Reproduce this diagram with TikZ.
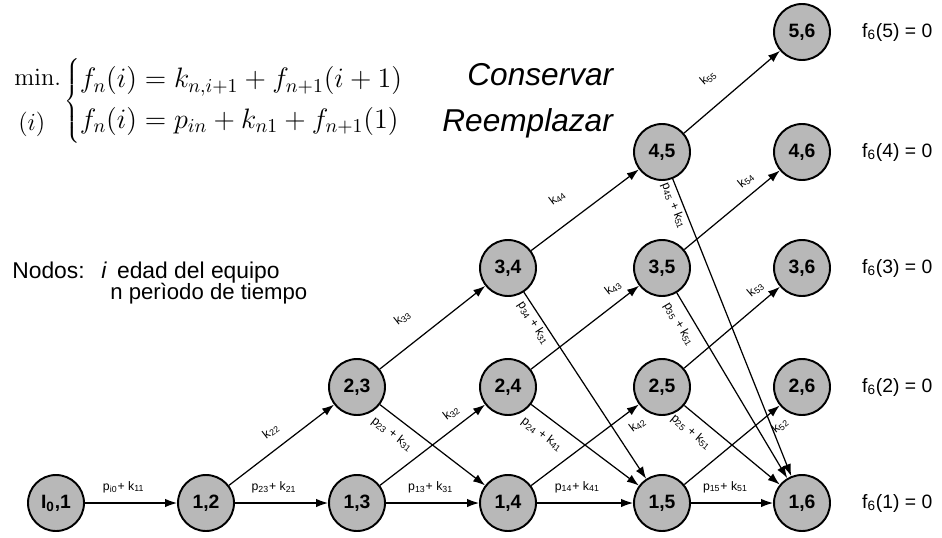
\RequirePackage{fix-cm}
\documentclass[tikz,border=0pt]{standalone}
\usepackage[no-math]{fontspec}
\setmainfont{Liberation Sans}
\usepackage{tikz}
\usetikzlibrary{arrows.meta}
\tikzset{every node/.append style={font=\fontsize{11}{13}\selectfont}}
\tikzset{
  estado/.style={circle, draw, line width=1.1pt, fill=black!28, minimum size=1.12cm,
    inner sep=0pt, font=\bfseries\fontsize{11}{13}\selectfont},
  arco/.style={->, line width=0.7pt},
  etq/.style={sloped, inner sep=0.5pt, font=\fontsize{7}{8}\selectfont},
}

\begin{document}
\begin{tikzpicture}[x=0.02cm, y=-0.02cm, >={Latex[length=2.4mm,width=1.7mm]}]
    \useasboundingbox (0,0) rectangle (942,537);
    % formula
    \node[anchor=base west, inner sep=0pt] (minimo) at (14,86) {\fontsize{14}{16}\selectfont$\mathrm{min.}$};
    \node[anchor=base west, inner sep=0pt] (indice) at (18,130) {\fontsize{14}{16}\selectfont$(i)$};
    \node[anchor=west, inner sep=0pt] (ecuaciones) at (64,101) {\fontsize{16}{18}\selectfont
      $\left\{\begin{array}{@{}l@{}} \rule{0pt}{0.62cm}f_n(i)=k_{n,i+1}+f_{n+1}(i+1)\\[5pt]
       f_n(i)=p_{in}+k_{n1}+f_{n+1}(1)\rule[-0.34cm]{0pt}{0.34cm}\end{array}\right.$};
    \node[anchor=base west, inner sep=0pt, font=\itshape\fontsize{18}{20}\selectfont] (conservar) at (467,86) {Conservar};
    \node[anchor=base west, inner sep=0pt, font=\itshape\fontsize{18}{20}\selectfont] (reemplazar) at (442,132) {Reemplazar};
    % leyenda
    \node[anchor=base west, inner sep=0pt, font=\fontsize{13}{15}\selectfont] (nodos) at (12,278) {Nodos:};
    \node[anchor=base west, inner sep=0pt, font=\fontsize{13}{15}\selectfont] (edad) at (101,278) {\textit{i}\, edad del equipo};
    \node[anchor=base west, inner sep=0pt, font=\fontsize{12.6}{15}\selectfont] (periodo) at (110,299) {n perìodo de tiempo};

    % estados
    \node[estado] (n01) at (56,503) {I\textsubscript{0},1};
    \node[estado] (n12) at (206,503) {1,2};
    \node[estado] (n13) at (357,503) {1,3};
    \node[estado] (n14) at (508,503) {1,4};
    \node[estado] (n15) at (662,503) {1,5};
    \node[estado] (n16) at (802,503) {1,6};
    \node[estado] (n23) at (357,387) {2,3};
    \node[estado] (n24) at (508,387) {2,4};
    \node[estado] (n25) at (662,387) {2,5};
    \node[estado] (n26) at (802,387) {2,6};
    \node[estado] (n34) at (508,268) {3,4};
    \node[estado] (n35) at (662,268) {3,5};
    \node[estado] (n36) at (802,268) {3,6};
    \node[estado] (n45) at (662,152) {4,5};
    \node[estado] (n46) at (802,152) {4,6};
    \node[estado] (n56) at (802,32) {5,6};

    % valores finales
    \node[anchor=west] (f5) at (856,32) {f\textsubscript{6}(5) = 0};
    \node[anchor=west] (f4) at (856,152) {f\textsubscript{6}(4) = 0};
    \node[anchor=west] (f3) at (856,268) {f\textsubscript{6}(3) = 0};
    \node[anchor=west] (f2) at (856,387) {f\textsubscript{6}(2) = 0};
    \node[anchor=west] (f1) at (856,503) {f\textsubscript{6}(1) = 0};

    % reemplazar en fila 1
    \draw[arco] (n01) -- node[etq, above=5pt, pos=0.42] {p\textsubscript{i0}+ k\textsubscript{11}} (n12);
    \draw[arco] (n12) -- node[etq, above=5pt, pos=0.42] {p\textsubscript{23}+ k\textsubscript{21}} (n13);
    \draw[arco] (n13) -- node[etq, above=5pt, pos=0.48] {p\textsubscript{13}+ k\textsubscript{31}} (n14);
    \draw[arco] (n14) -- node[etq, above=5pt, pos=0.42] {p\textsubscript{14}+ k\textsubscript{41}} (n15);
    \draw[arco] (n15) -- node[etq, above=5pt, pos=0.42] {p\textsubscript{15}+ k\textsubscript{51}} (n16);

    % conservar
    \draw[arco] (n12) -- node[etq, above=6pt, pos=0.5] {k\textsubscript{22}} (n23);
    \draw[arco] (n23) -- node[etq, above=11pt, pos=0.37] {k\textsubscript{33}} (n34);
    \draw[arco] (n34) -- node[etq, above=11pt, pos=0.39] {k\textsubscript{44}} (n45);
    \draw[arco] (n45) -- node[etq, above=11pt, pos=0.43] {k\textsubscript{55}} (n56);
    \draw[arco] (n13) -- node[etq, above=4pt, pos=0.76] {k\textsubscript{32}} (n24);
    \draw[arco] (n24) -- node[etq, above=4pt, pos=0.84] {k\textsubscript{43}} (n35);
    \draw[arco] (n35) -- node[etq, above=4pt, pos=0.74] {k\textsubscript{54}} (n46);
    \draw[arco] (n14) -- node[etq, below=5pt, pos=0.9] {k\textsubscript{42}} (n25);
    \draw[arco] (n25) -- node[etq, above=4pt, pos=0.84] {k\textsubscript{53}} (n36);
    \draw[arco] (n15) -- node[etq, below=5pt, pos=0.9] {k\textsubscript{52}} (n26);

    % reemplazar
    \draw[arco] (n23) -- node[etq, below=5pt, pos=0.21] {p\textsubscript{23} + k\textsubscript{31}} (n14);
    \draw[arco] (n24) -- node[etq, below=6pt, pos=0.2] {p\textsubscript{24} + k\textsubscript{41}} (n15);
    \draw[arco] (n25) -- node[etq, below=5pt, pos=0.18] {p\textsubscript{25} + k\textsubscript{51}} (n16);
    \draw[arco] (n34) -- node[etq, below=1pt, pos=0.14] {p\textsubscript{34} + k\textsubscript{31}} (n15);
    \draw[arco] (n35) -- node[etq, below=4pt, pos=0.13] {p\textsubscript{35} + k\textsubscript{51}} (n16);
    \draw[arco] (n45) -- node[etq, below=1pt, pos=0.08] {p\textsubscript{45} + k\textsubscript{51}} (n16);
\end{tikzpicture}
\end{document}
